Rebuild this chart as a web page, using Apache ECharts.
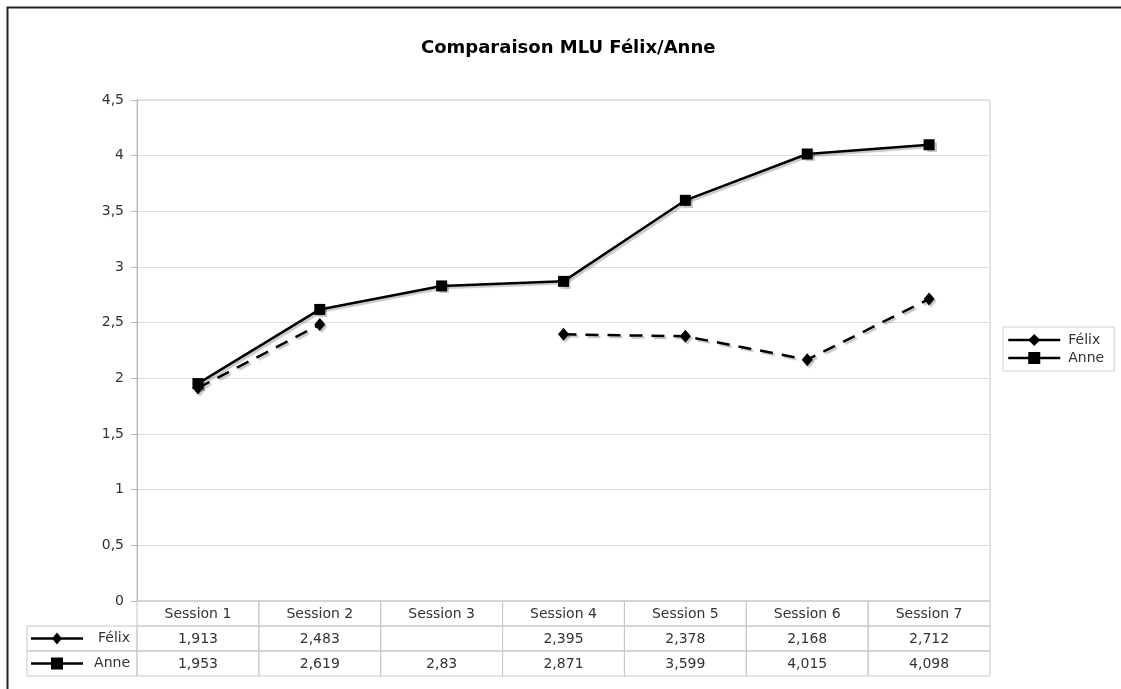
<!DOCTYPE html>
<html>
<head>
<meta charset="utf-8">
<script src="https://cdn.jsdelivr.net/npm/echarts@6/dist/echarts.min.js"></script>
<style>
html,body{margin:0;padding:0;background:#fff;}
#chart{width:1121px;height:689px;}
</style>
</head>
<body>
<div id="chart"></div>
<script>
const categories = ['Session 1','Session 2','Session 3','Session 4','Session 5','Session 6','Session 7'];
const felix = [1.913, 2.483, null, 2.395, 2.378, 2.168, 2.712];
const anne = [1.953, 2.619, 2.83, 2.871, 3.599, 4.015, 4.098];
const seriesNames = ['Félix', 'Anne'];
const yTicks = { min: 0, max: 4.5, interval: 0.5 };

const FONT = 'DejaVu Sans, Verdana, sans-serif';
const fmt = v => (v === null || v === undefined) ? '' : String(v).replace('.', ',');

// table cells: [colIndex, rowIndex]; col -1 is the row-label column, row 0 is header
const cells = [];
categories.forEach((c, i) => cells.push({ v: [i, 0], text: c }));
[felix, anne].forEach((arr, r) => {
  cells.push({ v: [-1, r + 1], text: seriesNames[r], key: r });
  arr.forEach((val, i) => cells.push({ v: [i, r + 1], text: fmt(val) }));
});

const chart = echarts.init(document.getElementById('chart'), null, { renderer: 'canvas' });

const lineShadow = { shadowColor: 'rgba(0,0,0,0.22)', shadowOffsetX: 2, shadowOffsetY: 2, shadowBlur: 1 };

const option = {
  backgroundColor: '#fff',
  animation: false,
  title: {
    text: 'Comparaison MLU Félix/Anne',
    left: 416, top: 34,
    textStyle: { fontFamily: FONT, fontSize: 18, fontWeight: 'bold', color: '#000' }
  },
  legend: {
    orient: 'vertical',
    left: 1003, top: 327,
    padding: [6, 10, 6, 4],
    itemGap: 4,
    itemWidth: 52, itemHeight: 15,
    borderColor: '#d0d0d0', borderWidth: 1,
    textStyle: { fontFamily: FONT, fontSize: 14, color: '#333', padding: [0, 0, 0, 3] },
    data: [
      { name: 'Félix', lineStyle: { type: 'solid', width: 2.5, shadowColor: 'transparent' }, itemStyle: { shadowColor: 'transparent' } },
      { name: 'Anne', lineStyle: { width: 2.5, shadowColor: 'transparent' }, itemStyle: { shadowColor: 'transparent' } }
    ]
  },
  grid: [
    { left: 137, top: 100, width: 853, height: 501, show: true, borderColor: '#c8c8c8', borderWidth: 1 },
    { left: 137, top: 601, width: 853, height: 75 }
  ],
  xAxis: [
    { type: 'category', gridIndex: 0, data: categories, boundaryGap: true,
      axisLine: { show: false }, axisTick: { show: false }, axisLabel: { show: false }, splitLine: { show: false } },
    { type: 'category', gridIndex: 1, data: categories, boundaryGap: true,
      axisLine: { show: false }, axisTick: { show: false }, axisLabel: { show: false }, splitLine: { show: false } }
  ],
  yAxis: [
    { type: 'value', gridIndex: 0, min: yTicks.min, max: yTicks.max, interval: yTicks.interval,
      axisLine: { show: true, lineStyle: { color: '#b8b8b8', width: 1 } },
      axisTick: { show: true, length: 6, lineStyle: { color: '#b8b8b8' } },
      axisLabel: { margin: 13, fontFamily: FONT, fontSize: 14, color: '#333', formatter: v => fmt(v) },
      splitLine: { show: true, lineStyle: { color: '#dedede', width: 1 } } },
    { type: 'category', gridIndex: 1, data: ['h', 'Félix', 'Anne'], inverse: true,
      axisLine: { show: false }, axisTick: { show: false }, axisLabel: { show: false }, splitLine: { show: false } }
  ],
  series: [
    {
      name: 'Félix', type: 'line', xAxisIndex: 0, yAxisIndex: 0, data: felix,
      connectNulls: false,
      symbol: 'diamond', symbolSize: [11, 13],
      itemStyle: Object.assign({ color: '#000' }, lineShadow),
      lineStyle: Object.assign({ color: '#000', width: 2.5, type: [13, 9] }, lineShadow),
      z: 3
    },
    {
      name: 'Anne', type: 'line', xAxisIndex: 0, yAxisIndex: 0, data: anne,
      symbol: 'rect', symbolSize: 11,
      itemStyle: Object.assign({ color: '#000' }, lineShadow),
      lineStyle: Object.assign({ color: '#000', width: 2.5 }, lineShadow),
      z: 4
    },
    {
      name: 'table', type: 'custom', xAxisIndex: 1, yAxisIndex: 1,
      data: cells.map(c => c.v),
      silent: true,
      renderItem: function (params, api) {
        const cell = cells[params.dataIndex];
        const ci = api.value(0), ri = api.value(1);
        const s = api.size([1, 1]);
        let x, w;
        const cy = api.coord([0, ri])[1];
        if (ci === -1) {
          const c0 = api.coord([0, ri]);
          w = 110;
          x = c0[0] - s[0] / 2 - w;
        } else {
          const c = api.coord([ci, ri]);
          w = s[0];
          x = c[0] - s[0] / 2;
        }
        const h = s[1];
        const y = cy - h / 2;
        const children = [{
          type: 'rect',
          shape: { x: x, y: y, width: w, height: h },
          style: { fill: 'none', stroke: '#c8c8c8', lineWidth: 1 }
        }];
        if (ci === -1) {
          const kx0 = x + 4, kx1 = x + 56, km = (kx0 + kx1) / 2;
          children.push({ type: 'line', shape: { x1: kx0, y1: cy, x2: kx1, y2: cy },
            style: { stroke: '#000', lineWidth: 2.5 } });
          if (cell.key === 0) {
            children.push({ type: 'polygon', shape: { points: [[km, cy - 6], [km + 5, cy], [km, cy + 6], [km - 5, cy]] },
              style: { fill: '#000' } });
          } else {
            children.push({ type: 'rect', shape: { x: km - 6, y: cy - 6, width: 12, height: 12 },
              style: { fill: '#000' } });
          }
          children.push({ type: 'text', style: { text: cell.text, x: x + w - 7, y: cy, align: 'right', verticalAlign: 'middle',
            font: '14px ' + FONT, fill: '#333' } });
        } else {
          children.push({ type: 'text', style: { text: cell.text, x: x + w / 2, y: cy + 1, align: 'center', verticalAlign: 'middle',
            font: '14px ' + FONT, fill: '#333' } });
        }
        return { type: 'group', children: children };
      },
      z: 2
    }
  ],
  graphic: [
    { type: 'polyline', shape: { points: [[7.5, 700], [7.5, 7.5], [1125, 7.5]] },
      style: { stroke: '#222', lineWidth: 2, fill: 'none' }, silent: true }
  ]
};

chart.setOption(option);
</script>
</body>
</html>
